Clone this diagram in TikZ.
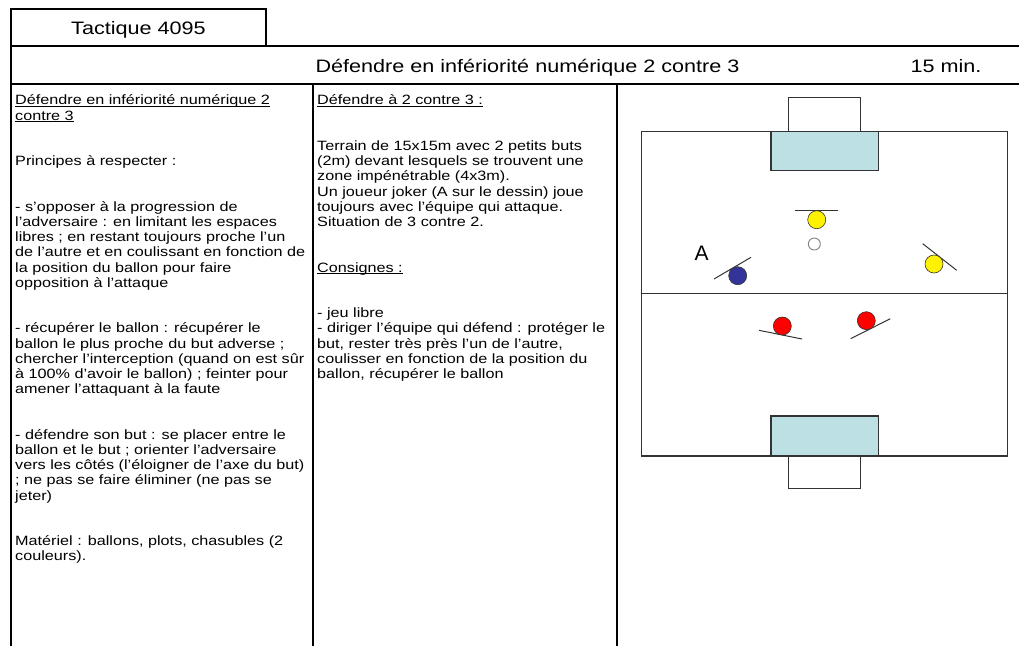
\documentclass[tikz,border=0pt]{standalone}
\usepackage{fontspec}
\setmainfont{Liberation Sans}
\newfontfamily\headfont[FakeStretch=1.2]{Liberation Sans}
\newfontfamily\bodyfont[FakeStretch=1.2]{Liberation Sans}
\usetikzlibrary{positioning}

\definecolor{zoneblue}{HTML}{BCE0E3}
\definecolor{jokerblue}{HTML}{333399}
\definecolor{linegray}{HTML}{333333}

\newcommand{\souligne}[1]{\leavevmode\setbox0\hbox{#1}\rlap{\rule[-2pt]{\wd0}{0.8pt}}\box0}

\tikzset{
  frame/.style={line width=2pt},
  fieldline/.style={draw=linegray, line width=1.3pt},
  player/.style={circle, draw=black!80, line width=0.6pt, minimum size=18pt, inner sep=0pt},
  facing/.style={draw=linegray, line width=1pt},
  headtext/.style={anchor=base, inner sep=0pt, font=\headfont\fontsize{18}{20}\selectfont},
  coltext/.style={anchor=north west, align=left, inner sep=0pt, font=\bodyfont\fontsize{13.5}{15.2}\selectfont}
}

\begin{document}
\begin{tikzpicture}[x=1pt, y=-1pt]
\useasboundingbox (0,0) rectangle (1019,646);

% frame
\draw[frame] (11,646) -- (11,9) -- (266,9) -- (266,46);
\draw[frame] (11,46) -- (1019,46);
\draw[frame] (11,84) -- (1019,84);
\draw[frame] (313,84) -- (313,646);
\draw[frame] (617,84) -- (617,646);

\node (tactique) [headtext] at (138.5,34) {Tactique 4095};
\node (titre) [headtext] at (527.5,72) {Défendre en infériorité numérique 2 contre 3};
\node (duree) [headtext] at (946,72) {15 min.};

\node (principes) [coltext] at (15,94) {\strut\souligne{Défendre en infériorité numérique 2}\\
\souligne{contre 3}\\[30.4pt]
Principes à respecter :\\[30.4pt]
- s’opposer à la progression de\\
l’adversaire : en limitant les espaces\\
libres ; en restant toujours proche l’un\\
de l’autre et en coulissant en fonction de\\
la position du ballon pour faire\\
opposition à l’attaque\\[30.4pt]
- récupérer le ballon : récupérer le\\
ballon le plus proche du but adverse ;\\
chercher l’interception (quand on est sûr\\
à 100\% d’avoir le ballon) ; feinter pour\\
amener l’attaquant à la faute\\[30.4pt]
- défendre son but : se placer entre le\\
ballon et le but ; orienter l’adversaire\\
vers les côtés (l’éloigner de l’axe du but)\\
; ne pas se faire éliminer (ne pas se\\
jeter)\\[30.4pt]
Matériel : ballons, plots, chasubles (2\\
couleurs).};

\node (consignes) [coltext] at (317,94) {\strut\souligne{Défendre à 2 contre 3 :}\\[30.4pt]
Terrain de 15x15m avec 2 petits buts\\
(2m) devant lesquels se trouvent une\\
zone impénétrable (4x3m).\\
Un joueur joker (A sur le dessin) joue\\
toujours avec l’équipe qui attaque.\\
Situation de 3 contre 2.\\[30.4pt]
\souligne{Consignes :}\\[30.4pt]
- jeu libre\\
- diriger l’équipe qui défend : protéger le\\
but, rester très près l’un de l’autre,\\
coulisser en fonction de la position du\\
ballon, récupérer le ballon};

% terrain
\draw[fieldline] (641.7,131.7) rectangle (1007.7,456);
\draw[fieldline] (641.7,293.3) -- (1007.7,293.3);
\draw[fieldline, fill=white] (788.7,97.3) rectangle (860.7,131.7);
\draw[fieldline, fill=zoneblue] (771,131.7) rectangle (878.3,170.3);
\draw[fieldline, fill=zoneblue] (771,416) rectangle (878.3,456);
\draw[fieldline, fill=white] (788.7,456) rectangle (860.7,488.3);

% joueurs
\draw[facing] (795,210.3) -- (837.7,210.3);
\draw[facing] (714,279) -- (751,257.3);
\draw[facing] (922.7,243.7) -- (956.7,270.3);
\draw[facing] (759,330.3) -- (802,339);
\draw[facing] (850.7,338.7) -- (890.3,318.7);

\node (jaune haut) [player, fill=yellow] at (816.7,219.7) {};
\node (jaune droite) [player, fill=yellow] at (934,264) {};
\node (joker) [player, fill=jokerblue] at (737.7,275.7) {};
\node (rouge gauche) [player, fill=red] at (782.3,326) {};
\node (rouge droite) [player, fill=red] at (866.3,320.7) {};
\node (ballon) [circle, draw=gray, line width=0.9pt, minimum size=12pt, inner sep=0pt, fill=white] at (814.3,244) {};
\node (lettre joker) [font=\fontsize{21}{24}\selectfont, inner sep=0pt] at (701.7,253.3) {A};

\end{tikzpicture}
\end{document}
